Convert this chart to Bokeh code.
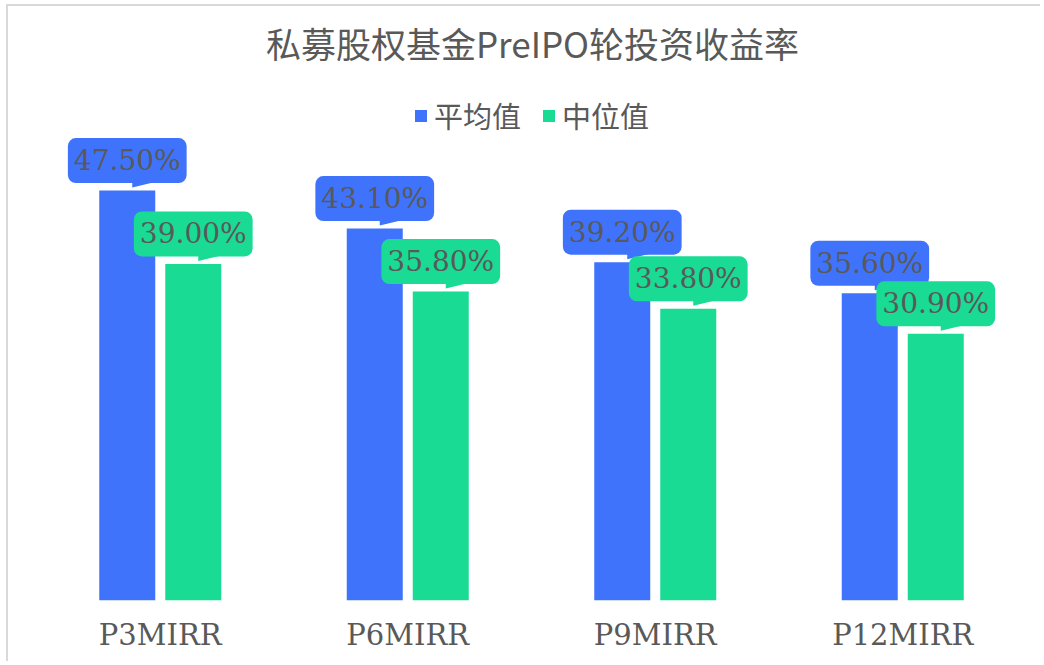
from bokeh.plotting import figure
from bokeh.models import ColumnDataSource, Range1d, FixedTicker, Legend, Label
from bokeh.core.properties import value
from bokeh.embed import file_html
from bokeh.resources import INLINE

categories = ["P3MIRR", "P6MIRR", "P9MIRR", "P12MIRR"]
mean_vals = [47.5, 43.1, 39.2, 35.6]
median_vals = [39.0, 35.8, 33.8, 30.9]
series_names = ["平均值", "中位值"]
colors = ["#3F73FB", "#1ADB94"]
title_text = "私募股权基金PreIPO轮投资收益率"

GRAY = "#595959"
W, H = 1034, 657
BL, BR, BT, BB = 28, 16, 0, 63
YMAX = 68.83
fw = W - BL - BR
fh = H - BT - BB
px_x = 4.0 / fw
px_y = YMAX / fh

p = figure(width=W, height=H, output_backend="svg", toolbar_location=None,
           x_range=Range1d(0, 4), y_range=Range1d(0, YMAX),
           min_border_left=BL, min_border_right=BR, min_border_top=BT, min_border_bottom=BB)
p.styles = {"border-top": "2px solid #d9d9d9", "border-left": "2px solid #d9d9d9",
            "margin-top": "4px", "margin-left": "6px"}

title = Label(x=fw / 2 + 1, y=fh - 36, x_units="screen", y_units="screen", text=title_text,
              text_align="center", text_baseline="middle", text_font="Noto Sans CJK SC",
              text_font_size="35px", text_color=GRAY)
p.add_layout(title)

p.outline_line_color = None
p.xgrid.visible = False
p.ygrid.visible = False
p.yaxis.visible = False
p.background_fill_color = "white"
p.border_fill_color = "white"

dodge = 33 * px_x
bw = 56 * px_x
renderers = []
for si, (vals, col, name) in enumerate(zip([mean_vals, median_vals], colors, series_names)):
    off = -dodge if si == 0 else dodge
    xs = [i + 0.5 + off for i in range(len(categories))]
    src = ColumnDataSource(dict(x=xs, top=vals, label=[f"{v:.2f}%" for v in vals]))
    r = p.vbar(x="x", top="top", width=bw, bottom=0, source=src, fill_color=col, line_color=None)
    renderers.append((name, [r]))
    # callout tails
    txs = [[x + 5 * px_x, x + 5 * px_x, x + 30 * px_x] for x in xs]
    tys = [[v + 3 * px_y, v + 9 * px_y, v + 9 * px_y] for v in vals]
    p.patches(xs=txs, ys=tys, fill_color=col, line_color=None)
    p.text(x="x", y="top", text="label", source=src, y_offset=-30,
           text_align="center", text_baseline="middle",
           text_font=value("DejaVu Serif"), text_font_size="28px", text_color=GRAY,
           background_fill_color=col, border_radius=8, padding=6)

legend = Legend(items=renderers, location="top_center", orientation="horizontal")
legend.label_text_font = "Noto Sans CJK SC"
legend.label_text_font_size = "29px"
legend.label_text_color = GRAY
legend.glyph_width = 15
legend.glyph_height = 15
legend.spacing = 20
legend.label_standoff = 6
legend.border_line_color = None
legend.background_fill_alpha = 0
legend.padding = 0
legend.margin = 88
p.add_layout(legend)

p.xaxis.ticker = FixedTicker(ticks=[i + 0.5 for i in range(len(categories))])
p.xaxis.major_label_overrides = {i + 0.5: c for i, c in enumerate(categories)}
p.xaxis.axis_line_color = None
p.xaxis.major_tick_line_color = None
p.xaxis.minor_tick_line_color = None
p.xaxis.major_label_text_font = "DejaVu Serif"
p.xaxis.major_label_text_font_size = "29px"
p.xaxis.major_label_text_color = GRAY
p.xaxis.major_label_standoff = 11

open("out.html", "w").write(file_html(p, INLINE))
